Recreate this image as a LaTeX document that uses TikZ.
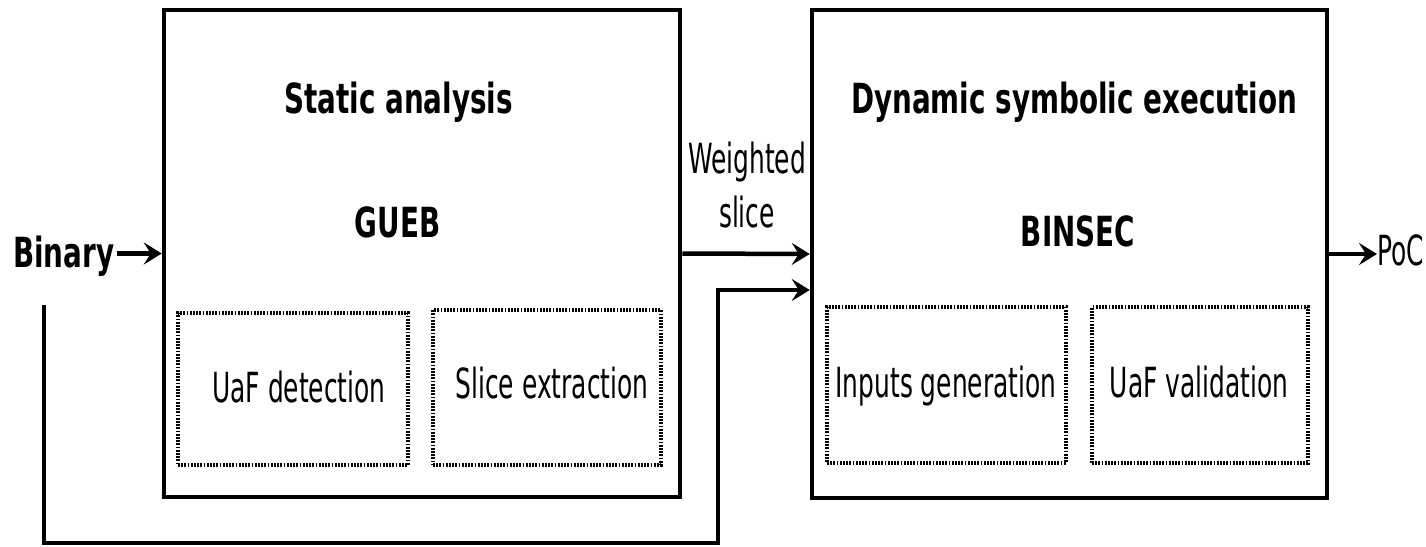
\documentclass[tikz,border=0pt]{standalone}
\usepackage{fontspec}
\setmainfont{DejaVu Sans}
\newfontfamily\rfont{DejaVu Sans}[FakeStretch=0.6]
\newfontfamily\bfont{DejaVu Sans Bold}[FakeStretch=0.67]
\usetikzlibrary{arrows.meta,calc}
\tikzset{
  bigbox/.style={draw, line width=4.5pt, rectangle, inner sep=0pt},
  subbox/.style={draw, line width=3.5pt, dash pattern=on 1.8pt off 1.4pt, rectangle, inner sep=0pt},
  ttl/.style={font=\bfont\fontsize{41.5}{48}\selectfont, inner sep=0pt, anchor=base},
  lbl/.style={font=\rfont\fontsize{41.5}{54}\selectfont, inner sep=0pt, anchor=base},
  arr/.style={line width=4.5pt, -{Stealth[length=18pt,width=22pt,inset=7pt]}},
  ln/.style={line width=4.5pt}
}
\begin{document}
\begin{tikzpicture}[x=1pt,y=-1pt]
\useasboundingbox (0,0) rectangle (1426,546);
% big boxes
\node[bigbox, minimum width=516pt, minimum height=487pt] (left) at (422,253.5) {};
\node[bigbox, minimum width=515pt, minimum height=488pt] (right) at (1069.5,254) {};
% sub boxes
\node[subbox, minimum width=230pt, minimum height=152pt] (uaf) at (293,389) {};
\node[subbox, minimum width=228pt, minimum height=155pt] (slice) at (547,387.5) {};
\node[subbox, minimum width=239pt, minimum height=156pt] (inp) at (946.5,385) {};
\node[subbox, minimum width=216pt, minimum height=156pt] (val) at (1200,385) {};
% titles
\node[ttl] (sa) at (398.5,113) {Static analysis};
\node[ttl] (gueb) at (397.5,237) {GUEB};
\node[ttl] (dse) at (1074,113) {Dynamic symbolic execution};
\node[ttl] (binsec) at (1078,246) {BINSEC};
% labels
\node[lbl] (uaft) at (299,402) {UaF detection};
\node[lbl] (slt) at (552,398) {Slice extraction};
\node[lbl] (inpt) at (946,397) {Inputs generation};
\node[lbl] (valt) at (1199,397) {UaF validation};
\node[lbl, align=center] (ws) at (747,227) {Weighted\\slice};
\node[ttl, anchor=base west] (bin) at (13,267) {Binary};
\node[lbl, anchor=base west] (poc) at (1377,265) {PoC};
% connectors
\draw[arr] (bin.east |- left.west) ++(2,0) -- (left.west);
\draw[arr] (left.east) -- (right.west);
\draw[arr] (right.east) -- (right.east -| poc.west);
\coordinate (fbs) at (44,305);
\coordinate (fbc) at (718,543);
\draw[arr] (fbs) |- (fbc) |- ($(right.west)+(0,36)$);
\end{tikzpicture}
\end{document}
